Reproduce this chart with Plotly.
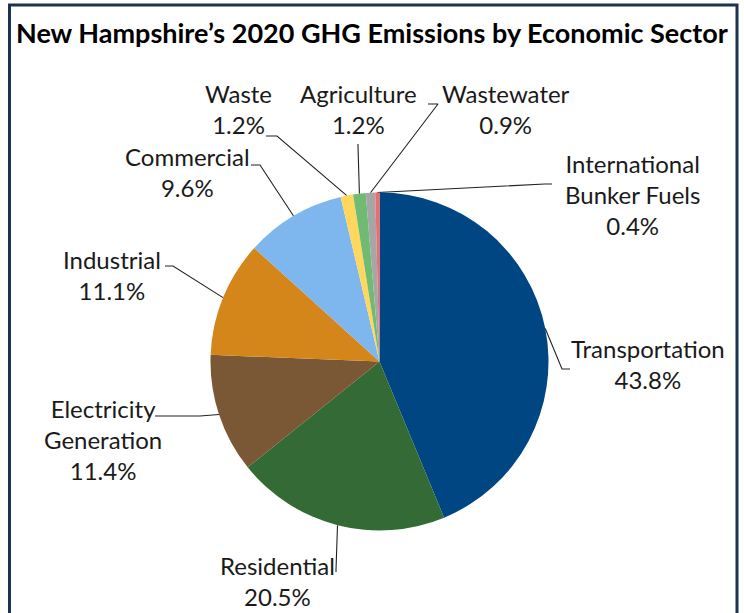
import math

import plotly.graph_objects as go

# --- data -------------------------------------------------------------------
sectors = [
    "Transportation",
    "Residential",
    "Electricity Generation",
    "Industrial",
    "Commercial",
    "Waste",
    "Agriculture",
    "Wastewater",
    "International Bunker Fuels",
]
shares = [43.8, 20.5, 11.4, 11.1, 9.6, 1.2, 1.2, 0.9, 0.4]
colors = [
    "#004683",
    "#336a35",
    "#7a5735",
    "#d4861b",
    "#7eb6ee",
    "#ffd75e",
    "#70bb72",
    "#a6a6a6",
    "#f26b6b",
]
label_text = [
    "Transportation",
    "Residential",
    "Electricity<br>Generation",
    "Industrial",
    "Commercial",
    "Waste",
    "Agriculture",
    "Wastewater",
    "International<br>Bunker Fuels",
]

# --- layout constants --------------------------------------------------------
# hidden axes span the whole figure so one unit == one pixel
W, H = 744, 613
CX, CY, R = 379.5, 361.5, 169.0
FONT = "Lato"

# label placement: (text centre x, text centre y, label end point, elbow point)
label_pos = [
    (648, 364, (570, 369), (562, 369)),
    (277, 581, (336, 572), (336, 570)),
    (103, 439, (155, 416), (200, 416)),
    (112, 275, (165, 266), (173, 266)),
    (187, 172, (251, 165), (260, 165)),
    (238, 109, (266, 136), (277, 136)),
    (358, 109, (358, 144), (358, 146)),
    (506, 109, (428, 104), (438, 104)),
    (632, 194, (552, 184), (545, 184)),
]

fig = go.Figure()

fig.add_trace(
    go.Pie(
        labels=sectors,
        values=shares,
        sort=False,
        direction="clockwise",
        rotation=0,
        marker=dict(colors=colors, line=dict(width=0)),
        textinfo="none",
        hoverinfo="label+percent",
        showlegend=False,
        domain=dict(
            x=[(CX - R) / W, (CX + R) / W],
            y=[1 - (CY + R) / H, 1 - (CY - R) / H],
        ),
    )
)

# leader lines: label -> elbow -> slice edge at mid angle
total = sum(shares)
lx, ly = [], []
cum = 0.0
for val, (tx, ty, end, elbow) in zip(shares, label_pos):
    mid = (cum + val / 2) / total * 2 * math.pi
    cum += val
    px = CX + R * math.sin(mid)
    py = CY - R * math.cos(mid)
    lx += [end[0], elbow[0], px, None]
    ly += [end[1], elbow[1], py, None]

fig.add_trace(
    go.Scatter(
        x=lx, y=ly, mode="lines",
        line=dict(color="#222222", width=1.1),
        hoverinfo="skip", showlegend=False,
    )
)

for name, val, (tx, ty, end, elbow) in zip(label_text, shares, label_pos):
    fig.add_annotation(
        x=tx, y=ty, xref="x", yref="y",
        text=f"{name}<br>{val:.1f}%",
        showarrow=False,
        align="center",
        xanchor="center", yanchor="middle",
        font=dict(family=FONT, size=24, color="#1a1a1a"),
    )

fig.add_annotation(
    x=372, y=32, xref="x", yref="y",
    text="<b>New Hampshire\u2019s 2020 GHG Emissions by Economic Sector</b>",
    showarrow=False,
    xanchor="center", yanchor="middle",
    font=dict(family=FONT, size=27, color="#000000"),
)

# frame (open at the bottom, as cropped in the source)
fig.add_shape(
    type="path",
    path=f"M 9.5 {H + 5} L 9.5 5 L 737 5 L 737 {H + 5}",
    xref="x", yref="y",
    line=dict(color="#1c3350", width=3),
)

fig.update_xaxes(range=[0, W], visible=False, fixedrange=True)
fig.update_yaxes(range=[H, 0], visible=False, fixedrange=True)

fig.update_layout(
    width=W,
    height=H,
    margin=dict(l=0, r=0, t=0, b=0),
    paper_bgcolor="white",
    plot_bgcolor="rgba(0,0,0,0)",
)

# drop the default 8px page margin so the figure fills the window exactly
fig.write_html(
    "out.html",
    config={"displayModeBar": False},
    post_script="document.body.style.margin='0';document.body.style.overflow='hidden';",
)
